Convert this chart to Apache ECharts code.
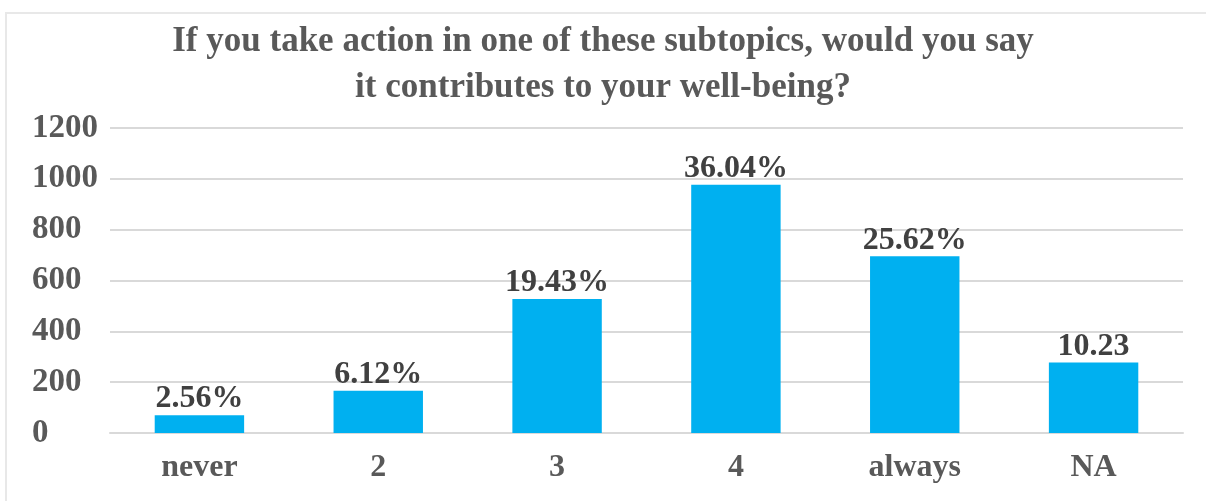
<!DOCTYPE html>
<html>
<head>
<meta charset="utf-8">
<script src="https://cdn.jsdelivr.net/npm/echarts@6/dist/echarts.min.js"></script>
<style>
html,body{margin:0;padding:0;background:#fff;}
#chart{width:1206px;height:501px;}
</style>
</head>
<body>
<div id="chart"></div>
<script>
const titleText = 'If you take action in one of these subtopics, would you say\nit contributes to your well-being?';
const categories = ['never', '2', '3', '4', 'always', 'NA'];
const counts = [70, 166, 527, 977, 695, 277];
const labels = ['2.56%', '6.12%', '19.43%', '36.04%', '25.62%', '10.23'];
const yTicks = { min: 0, max: 1200, interval: 200 };

const serif = '"Liberation Serif", "Times New Roman", serif';
const chart = echarts.init(document.getElementById('chart'));
chart.setOption({
  animation: false,
  backgroundColor: '#ffffff',
  title: {
    text: titleText,
    left: 'center',
    top: 14,
    textStyle: { fontFamily: serif, fontWeight: 'bold', fontSize: 35, color: '#595959', lineHeight: 46 }
  },
  graphic: [{
    type: 'polyline',
    silent: true,
    shape: { points: [[6, 501], [6, 13], [1206, 13]] },
    style: { stroke: '#e8e8e8', lineWidth: 2, fill: null }
  }],
  grid: { left: 110, right: 23, top: 128, bottom: 68, containLabel: false },
  xAxis: {
    type: 'category',
    data: categories,
    axisTick: { show: false },
    axisLine: { show: true, lineStyle: { color: '#d9d9d9', width: 2 } },
    axisLabel: { fontFamily: serif, fontWeight: 'bold', fontSize: 32, color: '#595959', margin: 19 }
  },
  yAxis: {
    type: 'value',
    min: yTicks.min, max: yTicks.max, interval: yTicks.interval,
    axisLine: { show: false },
    axisTick: { show: false },
    splitLine: { lineStyle: { color: '#d9d9d9', width: 2 } },
    axisLabel: {
      fontFamily: serif, fontWeight: 'bold', fontSize: 33, color: '#595959', align: 'left', margin: 78,
      formatter: v => String(v)
    }
  },
  series: [{
    type: 'bar',
    data: counts,
    barWidth: '50%',
    itemStyle: { color: '#00b0f0' },
    label: {
      show: true,
      position: 'top',
      distance: 0,
      fontFamily: serif, fontWeight: 'bold', fontSize: 32, color: '#404040',
      formatter: p => labels[p.dataIndex]
    }
  }]
});
</script>
</body>
</html>
